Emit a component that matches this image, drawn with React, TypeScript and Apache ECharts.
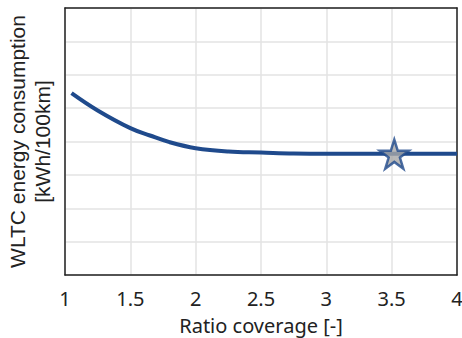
import React, { useEffect, useRef } from "react";
import * as echarts from "echarts";

const xTicks = [1, 1.5, 2, 2.5, 3, 3.5, 4];
const curveX = [1.05, 1.25, 1.5, 1.65, 1.8, 2.0, 2.25, 2.5, 2.75, 3.0, 3.5, 4.0];
const curveY = [5.45, 4.93, 4.4, 4.18, 3.98, 3.8, 3.7, 3.67, 3.64, 3.63, 3.63, 3.63];
const starPoint = [3.52, 3.62];

const STAR = "path://M50,0 L61.8,36 L99,36 L69,58 L80.5,94 L50,72 L19.5,94 L31,58 L1,36 L38.2,36 Z";

export default function App() {
  const ref = useRef<HTMLDivElement>(null);
  useEffect(() => {
    if (!ref.current) return;
    const chart = echarts.init(ref.current, undefined, { renderer: "svg" });
    const font = "Noto Sans";
    const frame = { show: true, lineStyle: { color: "#222222", width: 1.5 } };
    chart.setOption({
      animation: false,
      backgroundColor: "#ffffff",
      grid: {
        left: 65,
        right: 5,
        top: 8,
        bottom: 63,
        containLabel: false,
        outerBoundsMode: "none",
      },
      xAxis: [
        {
          type: "value",
          min: 1,
          max: 4,
          interval: 0.5,
          axisLine: { ...frame, onZero: false },
          axisTick: { show: false },
          splitLine: { show: true, lineStyle: { color: "#e3e3e3", width: 1.5 } },
          axisLabel: {
            color: "#222222",
            fontFamily: font,
            fontSize: 20,
            margin: 13,
            formatter: (v: number) => (xTicks.includes(v) ? String(v) : ""),
          },
          name: "Ratio coverage [-]",
          nameLocation: "middle",
          nameGap: 40,
          nameTextStyle: { color: "#222222", fontFamily: font, fontSize: 20 },
        },
        {
          type: "value",
          position: "top",
          min: 1,
          max: 4,
          axisLine: { ...frame, onZero: false },
          axisTick: { show: false },
          axisLabel: { show: false },
          splitLine: { show: false },
        },
      ],
      yAxis: [
        {
          type: "value",
          min: 0,
          max: 8,
          interval: 1,
          axisLine: { ...frame, onZero: false },
          axisTick: { show: false },
          axisLabel: { show: false },
          splitLine: { show: true, lineStyle: { color: "#e3e3e3", width: 1.5 } },
          name: "WLTC energy consumption\n[kWh/100km]",
          nameLocation: "middle",
          nameRotate: 90,
          nameGap: 10,
          nameTextStyle: { color: "#222222", fontFamily: "Liberation Sans", fontSize: 21, lineHeight: 25 },
        },
        {
          type: "value",
          position: "right",
          min: 0,
          max: 8,
          axisLine: { ...frame, onZero: false },
          axisTick: { show: false },
          axisLabel: { show: false },
          splitLine: { show: false },
        },
      ],
      series: [
        {
          type: "line",
          data: curveX.map((x, i) => [x, curveY[i]]),
          smooth: 0.4,
          showSymbol: false,
          lineStyle: { color: "#1f4a8c", width: 4 },
          z: 2,
        },
        {
          type: "scatter",
          data: [starPoint],
          symbol: STAR,
          symbolSize: 29,
          itemStyle: { color: "#a8a8a8", borderColor: "#1f4a8c", borderWidth: 2.5 },
          z: 3,
        },
      ],
    });
    return () => chart.dispose();
  }, []);
  return <div ref={ref} style={{ width: 462, height: 338, position: "absolute", left: 0, top: 0 }} />;
}
